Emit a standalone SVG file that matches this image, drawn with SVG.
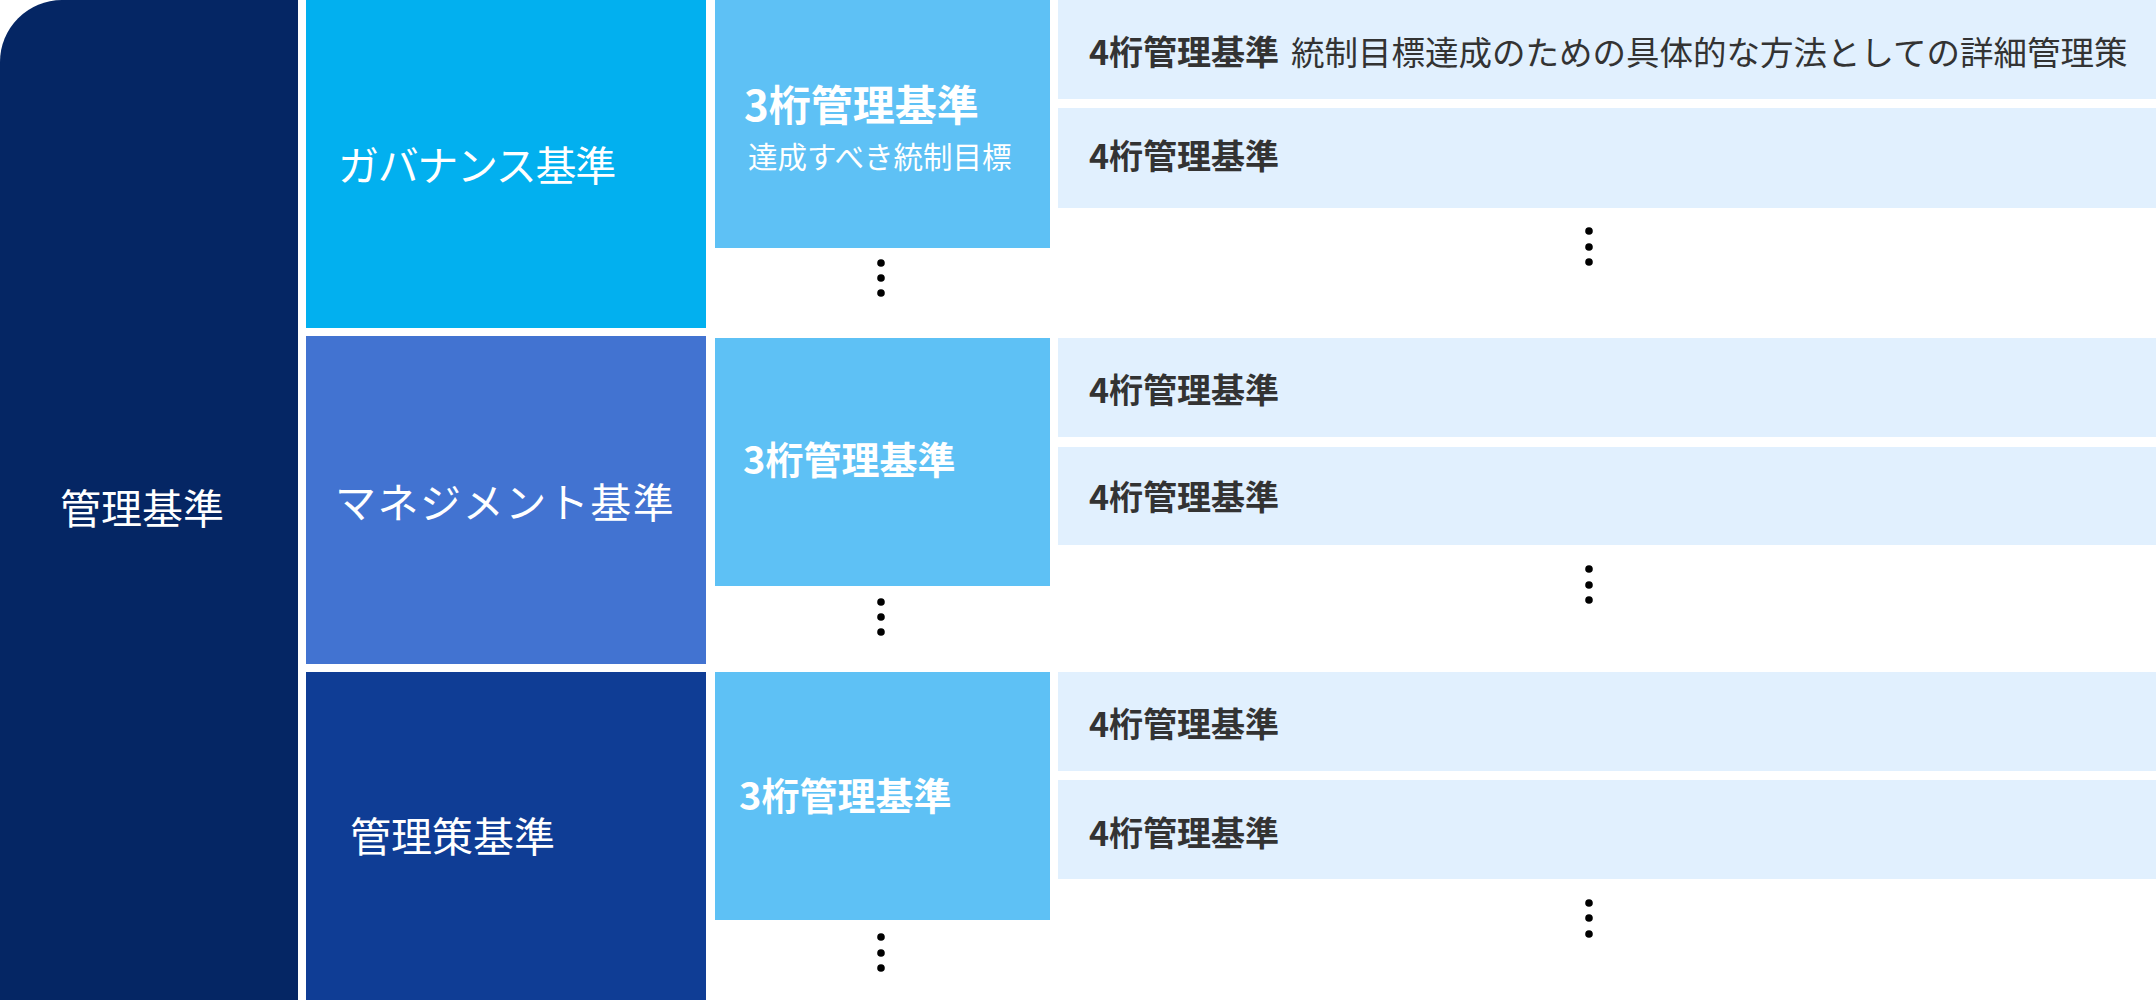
<svg xmlns="http://www.w3.org/2000/svg" width="2156" height="1000" viewBox="0 0 2156 1000">
<style>
.jp{font-family:"Noto Sans CJK JP","Noto Sans",sans-serif}
.w{fill:#ffffff}
.l2{font-size:41px;font-weight:400}
.t3{font-weight:700}
.t4{font-size:34px;font-weight:700;fill:#333333}
.d4{font-size:33.5px;font-weight:400;fill:#333333}
.c3{fill:#5EC1F5}
.c4{fill:#E1F0FE}
.dot{fill:#000000}
</style>
<rect width="2156" height="1000" fill="#ffffff"/>
<g id="root">
<path d="M0,62 A62,62 0 0 1 62,0 L298,0 L298,1000 L0,1000 Z" fill="#052664"/>
<text class="jp w l2" x="60" y="524">管理基準</text>
</g>
<g id="governance">
<rect x="306" y="0" width="400" height="328" fill="#02B0EF"/>
<text class="jp w l2" x="338" y="181" font-size="40.2" textLength="278.2" lengthAdjust="spacing">ガバナンス基準</text>
</g>
<g id="management">
<rect x="306" y="336" width="400" height="328" fill="#4273D1"/>
<text class="jp w l2" x="335" y="518" font-size="41.8" textLength="338.8" lengthAdjust="spacing">マネジメント基準</text>
</g>
<g id="policy">
<rect x="306" y="672" width="400" height="328" fill="#0F3D95"/>
<text class="jp w l2" x="350" y="852" font-size="41.4">管理策基準</text>
</g>
<g id="l3-1">
<rect class="c3" x="715" y="0" width="335" height="248"/>
<text class="jp w t3" x="744" y="121" font-size="42">3桁管理基準</text>
<text class="jp w" x="748" y="168" font-size="29.5">達成すべき統制目標</text>
</g>
<g id="l3-2">
<rect class="c3" x="715" y="338" width="335" height="248"/>
<text class="jp w t3" x="743" y="474" font-size="38">3桁管理基準</text>
</g>
<g id="l3-3">
<rect class="c3" x="715" y="672" width="335" height="248"/>
<text class="jp w t3" x="739" y="810" font-size="38">3桁管理基準</text>
</g>
<g id="l4-1">
<rect class="c4" x="1058" y="0" width="1098" height="99"/>
<text class="jp t4" x="1089" y="65">4桁管理基準</text>
<text class="jp d4" x="1291" y="65">統制目標達成のための具体的な方法としての詳細管理策</text>
</g>
<g id="l4-2">
<rect class="c4" x="1058" y="108" width="1098" height="100"/>
<text class="jp t4" x="1089" y="169">4桁管理基準</text>
</g>
<g id="l4-3">
<rect class="c4" x="1058" y="338" width="1098" height="99"/>
<text class="jp t4" x="1089" y="403">4桁管理基準</text>
</g>
<g id="l4-4">
<rect class="c4" x="1058" y="447" width="1098" height="98"/>
<text class="jp t4" x="1089" y="510">4桁管理基準</text>
</g>
<g id="l4-5">
<rect class="c4" x="1058" y="672" width="1098" height="99"/>
<text class="jp t4" x="1089" y="737">4桁管理基準</text>
</g>
<g id="l4-6">
<rect class="c4" x="1058" y="780" width="1098" height="99"/>
<text class="jp t4" x="1089" y="846">4桁管理基準</text>
</g>
<g id="ellipses">
<circle class="dot" cx="881" cy="263" r="3.8"/>
<circle class="dot" cx="881" cy="278" r="3.8"/>
<circle class="dot" cx="881" cy="293" r="3.8"/>
<circle class="dot" cx="881" cy="602" r="3.8"/>
<circle class="dot" cx="881" cy="617" r="3.8"/>
<circle class="dot" cx="881" cy="632" r="3.8"/>
<circle class="dot" cx="881" cy="937" r="3.8"/>
<circle class="dot" cx="881" cy="953" r="3.8"/>
<circle class="dot" cx="881" cy="968" r="3.8"/>
<circle class="dot" cx="1589" cy="231" r="3.8"/>
<circle class="dot" cx="1589" cy="247" r="3.8"/>
<circle class="dot" cx="1589" cy="262" r="3.8"/>
<circle class="dot" cx="1589" cy="569" r="3.8"/>
<circle class="dot" cx="1589" cy="585" r="3.8"/>
<circle class="dot" cx="1589" cy="600" r="3.8"/>
<circle class="dot" cx="1589" cy="903" r="3.8"/>
<circle class="dot" cx="1589" cy="918" r="3.8"/>
<circle class="dot" cx="1589" cy="934" r="3.8"/>
</g>
<g id="connectors"></g>
</svg>
